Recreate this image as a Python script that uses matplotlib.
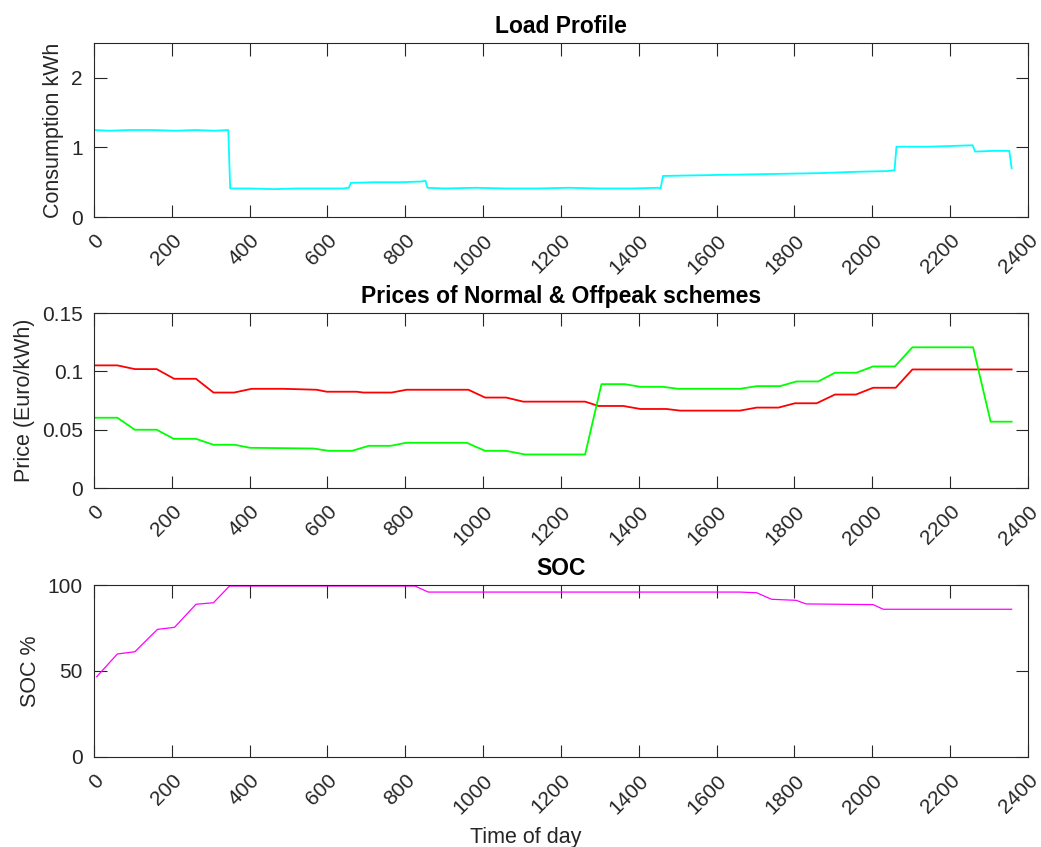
import matplotlib
matplotlib.use('Agg')
import matplotlib.pyplot as plt

plt.rcParams['font.family'] = ['Liberation Sans', 'DejaVu Sans']

INK = '#262626'

# ── datos ─────────────────────────────────────────────────────────────────────

# consumo (kWh) por hora
load_t   = [1, 40, 90, 150, 210, 260, 310, 345, 350, 400, 460, 520, 580, 640,
            655, 660, 720, 790, 840, 852, 857, 900, 980, 1060, 1140, 1220,
            1300, 1380, 1450, 1456, 1462, 1560, 1660, 1760, 1860, 1960, 2040,
            2053, 2057, 2062, 2140, 2200, 2252, 2258, 2264, 2310, 2352, 2358]
load_kwh = [1.25, 1.24, 1.25, 1.25, 1.24, 1.25, 1.24, 1.25, 0.41, 0.41, 0.40,
            0.41, 0.41, 0.41, 0.42, 0.49, 0.50, 0.50, 0.51, 0.52, 0.42, 0.41,
            0.42, 0.41, 0.41, 0.42, 0.41, 0.41, 0.42, 0.41, 0.59, 0.60, 0.61,
            0.62, 0.63, 0.65, 0.66, 0.67, 0.67, 1.01, 1.01, 1.02, 1.03, 1.03,
            0.94, 0.95, 0.95, 0.70]

# tarifas (Euro/kWh)
price_t  = [1, 60, 105, 161, 206, 262, 307, 360, 405, 487, 572, 598, 675, 692,
            765, 803, 962, 1005, 1059, 1103, 1262, 1296, 1360, 1404, 1471, 1506,
            1660, 1703, 1759, 1801, 1857, 1904, 1958, 2002, 2060, 2103, 2358]
normal   = [0.1052, 0.1052, 0.1020, 0.1020, 0.0937, 0.0937, 0.0819, 0.0819,
            0.0851, 0.0851, 0.0843, 0.0826, 0.0826, 0.0819, 0.0819, 0.0843,
            0.0843, 0.0776, 0.0776, 0.0741, 0.0741, 0.0704, 0.0704, 0.0678,
            0.0678, 0.0664, 0.0664, 0.0690, 0.0690, 0.0727, 0.0727, 0.0802,
            0.0802, 0.0860, 0.0860, 0.1017, 0.1017]

off_t    = [1, 60, 105, 161, 205, 262, 307, 362, 401, 487, 564, 603, 663, 706,
            762, 802, 958, 1005, 1059, 1107, 1262, 1304, 1364, 1404, 1462, 1501,
            1660, 1703, 1763, 1805, 1861, 1904, 1959, 2002, 2058, 2103, 2259,
            2304, 2358]
offpeak  = [0.0603, 0.0603, 0.0500, 0.0500, 0.0422, 0.0422, 0.0371, 0.0371,
            0.0345, 0.0342, 0.0339, 0.0319, 0.0319, 0.0362, 0.0362, 0.0388,
            0.0388, 0.0319, 0.0319, 0.0288, 0.0288, 0.0891, 0.0891, 0.0868,
            0.0868, 0.0851, 0.0851, 0.0874, 0.0874, 0.0914, 0.0914, 0.0989,
            0.0989, 0.1043, 0.1043, 0.1207, 0.1207, 0.0569, 0.0569]

# estado de carga de la batería (%)
soc_t    = [7, 60, 105, 163, 207, 262, 307, 348, 825, 859, 1660, 1703, 1741,
            1804, 1830, 2002, 2028, 2358]
soc      = [46.7, 59.9, 61.2, 74.2, 75.4, 88.8, 89.7, 99.4, 99.4, 95.9, 95.9,
            95.5, 91.7, 91.1, 89.0, 88.6, 85.9, 85.9]

xticks = list(range(0, 2401, 200))


def estilo(ax, ylim, yticks, ylabel, title):
    ax.set_xlim(0, 2400)
    ax.set_ylim(*ylim)
    ax.set_xticks(xticks)
    ax.set_xticklabels([str(v) for v in xticks], rotation=45, ha='right',
                       va='top', rotation_mode='anchor')
    ax.set_yticks(yticks)
    ax.set_yticklabels([f'{v:g}' for v in yticks])
    ax.tick_params(direction='in', length=9, width=0.8, colors=INK,
                   labelsize=15, top=True, right=True)
    ax.tick_params(axis='x', pad=10)
    ax.tick_params(axis='y', pad=8)
    for s in ax.spines.values():
        s.set_color(INK)
        s.set_linewidth(0.8)
    ax.set_ylabel(ylabel, fontsize=15.5, color=INK, labelpad=5)
    ax.set_title(title, fontsize=16.5, fontweight='bold', color='black', pad=7)


fig = plt.figure(figsize=(10.41, 8.47), dpi=100)
ax1 = fig.add_axes([0.0903, 0.7438, 0.8972, 0.2054])
ax2 = fig.add_axes([0.0903, 0.4238, 0.8972, 0.2065])
ax3 = fig.add_axes([0.0903, 0.1063, 0.8972, 0.2030])

ax1.plot(load_t, load_kwh, color='#00ffff', linewidth=1.3)
estilo(ax1, (0, 2.5), [0, 1, 2], 'Consumption kWh', 'Load Profile')

ax2.plot(price_t, normal, color='#ff0000', linewidth=1.3)
ax2.plot(off_t, offpeak, color='#00ff00', linewidth=1.3)
estilo(ax2, (0, 0.15), [0, 0.05, 0.1, 0.15], 'Price (Euro/kWh)',
       'Prices of Normal & Offpeak schemes')

ax3.plot(soc_t, soc, color='#ff00ff', linewidth=0.9)
estilo(ax3, (0, 100), [0, 50, 100], 'SOC %', 'SOC')
ax3.set_xlabel('Time of day', fontsize=15.5, color=INK)
ax3.xaxis.set_label_coords(0.4625, -0.41)

fig.savefig('out.png', dpi=100, facecolor='white')
